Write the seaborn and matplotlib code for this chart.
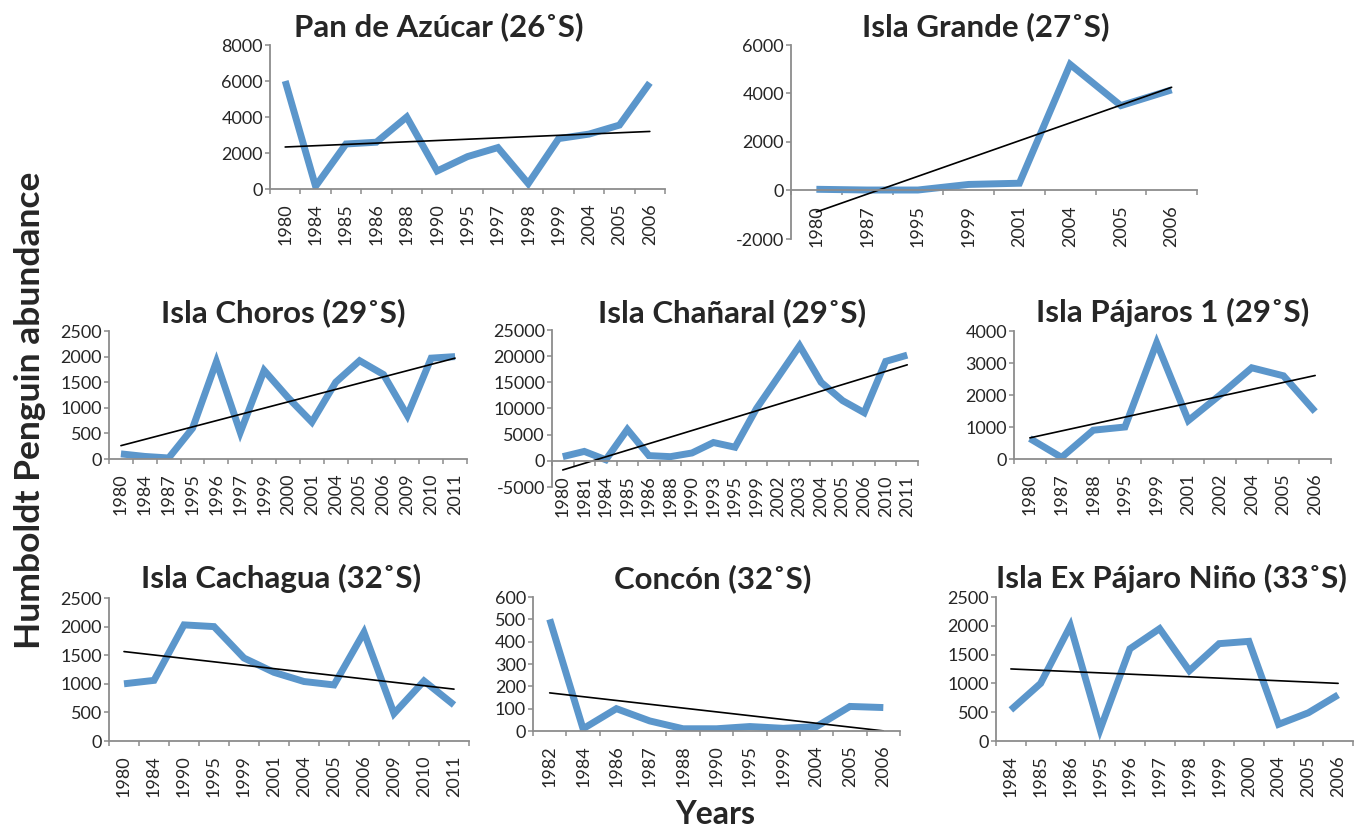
import numpy as np
import matplotlib
matplotlib.use("Agg")
import matplotlib.pyplot as plt
import seaborn as sns
from matplotlib.ticker import MultipleLocator, FixedLocator

sns.set_style("white")
plt.rcParams["font.family"] = ["Lato", "DejaVu Sans"]
plt.rcParams["axes.unicode_minus"] = False

# ---- data ----
pan_years = ["1980", "1984", "1985", "1986", "1988", "1990", "1995", "1997", "1998", "1999", "2004", "2005", "2006"]
pan_vals = [6000, 150, 2500, 2600, 4000, 1000, 1800, 2300, 300, 2800, 3050, 3550, 5900]

grande_years = ["1980", "1987", "1995", "1999", "2001", "2004", "2005", "2006"]
grande_vals = [50, 20, 20, 250, 300, 5200, 3500, 4150]

choros_years = ["1980", "1984", "1987", "1995", "1996", "1997", "1999", "2000", "2001", "2004", "2005", "2006", "2009", "2010", "2011"]
choros_vals = [100, 50, 20, 600, 1900, 520, 1730, 1200, 720, 1500, 1920, 1650, 850, 1970, 2000]

chanaral_years = ["1980", "1981", "1984", "1985", "1986", "1988", "1990", "1993", "1995", "1999", "2002", "2003", "2004", "2005", "2006", "2010", "2011"]
chanaral_vals = [800, 1800, 200, 6000, 1000, 800, 1500, 3500, 2600, 10000, 16000, 22000, 15000, 11500, 9200, 19000, 20200]

pajaros_years = ["1980", "1987", "1988", "1995", "1999", "2001", "2002", "2004", "2005", "2006"]
pajaros_vals = [640, 50, 900, 1000, 3630, 1200, 2000, 2850, 2600, 1480]

cachagua_years = ["1980", "1984", "1990", "1995", "1999", "2001", "2004", "2005", "2006", "2009", "2010", "2011"]
cachagua_vals = [1000, 1060, 2030, 2000, 1450, 1200, 1040, 980, 1900, 480, 1050, 630]

concon_years = ["1982", "1984", "1986", "1987", "1988", "1990", "1995", "1999", "2004", "2005", "2006"]
concon_vals = [500, 10, 100, 45, 10, 10, 20, 12, 20, 110, 105]

nino_years = ["1984", "1985", "1986", "1995", "1996", "1997", "1998", "1999", "2000", "2004", "2005", "2006"]
nino_vals = [540, 1000, 2000, 200, 1600, 1950, 1220, 1690, 1730, 290, 490, 800]

titles = ["Pan de Azúcar (26˚S)", "Isla Grande (27˚S)", "Isla Choros (29˚S)",
          "Isla Chañaral (29˚S)", "Isla Pájaros 1 (29˚S)", "Isla Cachagua (32˚S)",
          "Concón (32˚S)", "Isla Ex Pájaro Niño (33˚S)"]
year_lists = [pan_years, grande_years, choros_years, chanaral_years,
              pajaros_years, cachagua_years, concon_years, nino_years]
value_lists = [pan_vals, grande_vals, choros_vals, chanaral_vals,
               pajaros_vals, cachagua_vals, concon_vals, nino_vals]
y_limits = [(0, 8000), (-2000, 6000), (0, 2500), (-5000, 25000),
            (0, 4000), (0, 2500), (0, 600), (0, 2500)]
y_steps = [2000, 2000, 500, 5000, 1000, 500, 100, 500]

# ---- layout in pixels: (left, right, top, bottom) of plot area, title centre x, title baseline y ----
W, H = 1361, 830
boxes = [(270, 665, 45, 189), (791, 1197, 45, 239), (109, 467, 331, 459),
         (552, 918, 330, 487), (1014, 1331, 331, 459), (109, 469, 598, 741),
         (533, 900, 597, 731), (996, 1353, 597, 741)]
title_pos = [(439, 36), (986, 36), (283, 322), (732, 322), (1173, 322),
             (281, 588), (713, 588), (1171, 588)]

line_color = "#5B96CB"
axis_gray = "#8C8C8C"

fig = plt.figure(figsize=(W / 100, H / 100), dpi=100)

for i in range(8):
    l, r, t, b = boxes[i]
    ax = fig.add_axes([l / W, 1 - b / H, (r - l) / W, (b - t) / H])
    years = year_lists[i]
    vals = value_lists[i]
    idx = np.arange(len(years))

    sns.lineplot(x=idx, y=vals, ax=ax, color=line_color, lw=5,
                 solid_joinstyle="miter", solid_capstyle="butt")
    sns.regplot(x=idx, y=vals, ax=ax, scatter=False, ci=None, truncate=True,
                color="black", line_kws={"lw": 1.2})

    ax.set_xlim(-0.5, len(years) - 0.5)
    ax.set_ylim(*y_limits[i])
    ax.yaxis.set_major_locator(MultipleLocator(y_steps[i]))
    ax.xaxis.set_major_locator(FixedLocator(idx))
    ax.set_xticklabels(years)
    ax.xaxis.set_minor_locator(FixedLocator(np.arange(len(years) + 1) - 0.5))
    ax.set_xlabel("")
    ax.set_ylabel("")

    for s in ["top", "right"]:
        ax.spines[s].set_visible(False)
    for s in ["left", "bottom"]:
        ax.spines[s].set_color(axis_gray)
        ax.spines[s].set_linewidth(1.3)
    ax.spines["bottom"].set_position(("data", 0))
    ax.spines["left"].set_bounds(*y_limits[i])

    ax.tick_params(axis="y", which="major", direction="out", length=3.5, width=1.1,
                   color=axis_gray, labelsize=13, pad=1.5, left=True)
    ax.tick_params(axis="x", which="major", length=0, labelsize=13, pad=10.5,
                   bottom=True, labelrotation=90)
    ax.tick_params(axis="x", which="minor", direction="out", length=3.5, width=1.1,
                   color=axis_gray, bottom=True)
    ax.set_facecolor("none")

    tx, ty = title_pos[i]
    fig.text(tx / W, 1 - ty / H, titles[i], ha="center", va="baseline",
             fontsize=22.5, fontweight="bold")

fig.text(30 / W, 1 - 410 / H, "Humboldt Penguin abundance", rotation=90,
         ha="center", va="center", fontsize=25.5, fontweight="bold")
fig.text(715 / W, 1 - 829 / H, "Years", ha="center", va="bottom",
         fontsize=23, fontweight="bold")

fig.savefig("out.png", dpi=100, facecolor="white")
